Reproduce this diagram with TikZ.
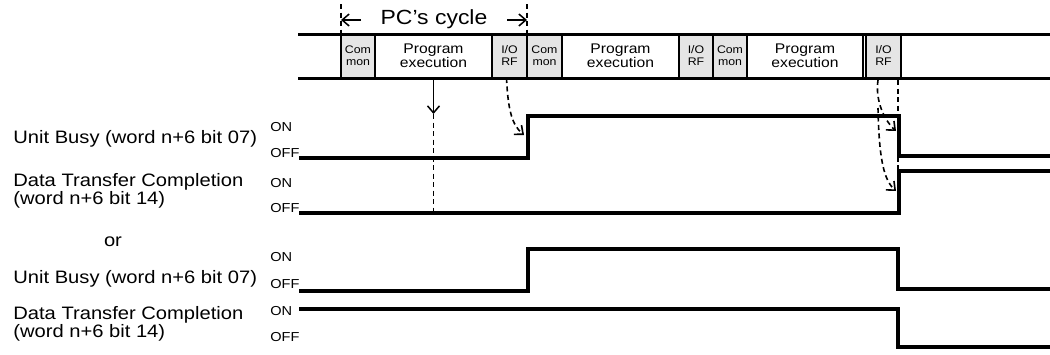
\documentclass[tikz,border=0pt]{standalone}
\usepackage{fontspec}
\setmainfont{Liberation Sans}[FakeStretch=1.12]
\usetikzlibrary{positioning,calc,arrows.meta}
\definecolor{slotgray}{gray}{0.9}
\tikzset{
  every picture/.style={line width=0.7pt},
  sRail/.style={line width=3pt},
  sSig/.style={line width=3.2pt},
  sSlot/.style={draw, line width=1.5pt, anchor=north west, minimum height=44pt,
                inner sep=0pt, outer sep=0pt, align=center,
                font=\fontsize{11}{12}\selectfont},
  sProg/.style={sSlot, font=\fontsize{14}{14}\selectfont},
  sArr/.style={-{Straight Barb[length=7pt,width=12pt]}, line width=1.5pt},
  sDash/.style={line width=1.6pt, dash pattern=on 5pt off 3.5pt},
  sDashArr/.style={sDash, -{Straight Barb[length=7pt,width=12pt]}},
  sLbl/.style={anchor=west, align=left, inner sep=0pt, font=\fontsize{18}{18}\selectfont},
  sLvl/.style={anchor=west, inner sep=0pt, font=\fontsize{13}{12}\selectfont},
}
\begin{document}
\begin{tikzpicture}[x=1pt,y=-1pt]
  \useasboundingbox (0,0) rectangle (1050,354);
  % cycle strip
  \node[sSlot, fill=slotgray, minimum width=34pt]  (cm1) at (341,34) {Com\\mon};
  \node[sProg, minimum width=117pt]                (pe1) at (375,34) {Program\\execution};
  \node[sSlot, fill=slotgray, minimum width=35pt]  (io1) at (492,34) {I/O\\RF};
  \node[sSlot, fill=slotgray, minimum width=35pt]  (cm2) at (527,34) {Com\\mon};
  \node[sProg, minimum width=117pt]                (pe2) at (562,34) {Program\\execution};
  \node[sSlot, fill=slotgray, minimum width=34pt]  (io2) at (679,34) {I/O\\RF};
  \node[sSlot, fill=slotgray, minimum width=34pt]  (cm3) at (713,34) {Com\\mon};
  \node[sProg, minimum width=116pt]                (pe3) at (747,34) {Program\\execution};
  \node[sSlot, fill=slotgray, minimum width=35pt]  (io3) at (866,34) {I/O\\RF};
  \draw[sRail] (298,34) -- (1050,34);
  \draw[sRail] (298,78) -- (1050,78);
  % PC's cycle
  \coordinate (cycL) at (341,4);
  \coordinate (cycR) at (527,4);
  \node[font=\fontsize{20.5}{18}\selectfont] (cyc) at (434,19) {PC's cycle};
  \draw[sDash] (cycL) -- (cm1.north west);
  \draw[sDash] (cycR) -- (cm2.north west);
  \coordinate (cycLa) at (361,20);
  \coordinate (cycRa) at (507,20);
  \draw[sArr] (cycLa) -- (cycL |- cycLa);
  \draw[sArr] (cycRa) -- (cycR |- cycRa);
  % signal names
  \node[sLbl] (ub1) at (13,139) {Unit Busy (word n+6 bit 07)};
  \node[sLbl] (dt1) at (13,191) {Data Transfer Completion\\(word n+6 bit 14)};
  \node[font=\fontsize{18}{18}\selectfont] (or) at (113,242) {or};
  \node[sLbl] (ub2) at (13,279) {Unit Busy (word n+6 bit 07)};
  \node[sLbl] (dt2) at (13,324) {Data Transfer Completion\\(word n+6 bit 14)};
  % levels
  \node[sLvl] (on1)  at (270,127) {ON};
  \node[sLvl] (off1) at (270,153) {OFF};
  \node[sLvl] (on2)  at (270,183) {ON};
  \node[sLvl] (off2) at (270,208) {OFF};
  \node[sLvl] (on3)  at (270,257) {ON};
  \node[sLvl] (off3) at (270,284) {OFF};
  \node[sLvl] (on4)  at (270,311) {ON};
  \node[sLvl] (off4) at (270,337) {OFF};
  % waveforms
  \draw[sSig] (299,158) -| (528,116) -| (899,156) -- (1050,156);
  \draw[sSig] (299,213) coordinate (dt1Low) -| (899,171) -- (1050,171);
  \draw[sSig] (299,291) -| (528,249) -| (898,289) -- (1050,289);
  \draw[sSig] (299,309) -| (898,347) -- (1050,347);
  % timing arrows
  \draw[sArr] (pe1.south) -- ++(0,36) coordinate (trigEnd);
  \draw[sDash] (trigEnd) -- (trigEnd |- dt1Low);
  \coordinate (ub1Up) at (524,135);
  \draw[sDashArr] ([xshift=-3pt]io1.south) .. controls (508,110) and (512,125) .. (ub1Up);
  \coordinate (ioA) at (878,80);
  \coordinate (ioB) at (878,108);
  \coordinate (ioC) at (898,80);
  \coordinate (ub1Dn) at (896,131);
  \coordinate (dt1Up) at (896,191);
  \draw[sDashArr] (ioA) .. controls (875,100) and (884,120) .. (ub1Dn);
  \draw[sDashArr] (ioB) .. controls (879,160) and (884,180) .. (dt1Up);
  \draw[sDash] (ioC) -- (ioC |- dt1Up);
\end{tikzpicture}
\end{document}
